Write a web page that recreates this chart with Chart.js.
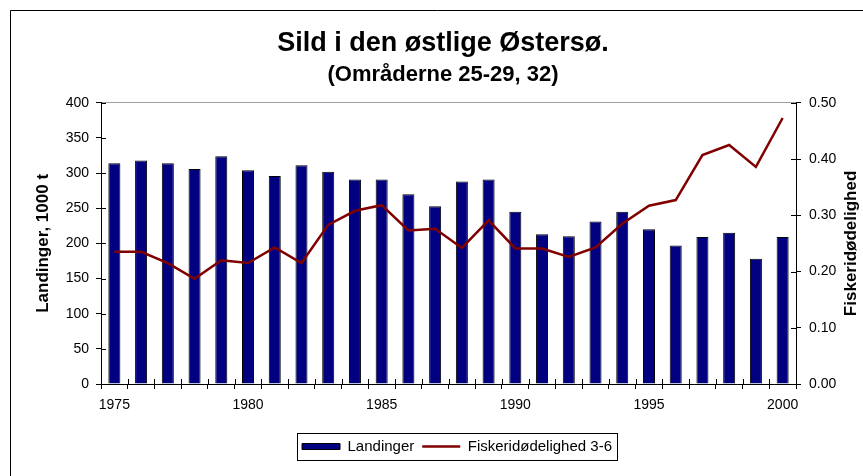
<!DOCTYPE html>
<html>
<head>
<meta charset="utf-8">
<script src="https://cdn.jsdelivr.net/npm/chart.js@4"></script>
<style>
html, body { margin: 0; padding: 0; background: #fff; }
</style>
</head>
<body>
<canvas id="myChart" width="863" height="476"></canvas>
<script>
// Sild i den østlige Østersø - landinger og fiskeridødelighed
var years = ['1975', '1976', '1977', '1978', '1979', '1980', '1981', '1982', '1983',
    '1984', '1985', '1986', '1987', '1988', '1989', '1990', '1991', '1992', '1993',
    '1994', '1995', '1996', '1997', '1998', '1999', '2000'];
var yearLabels = ['1975', '1980', '1985', '1990', '1995', '2000'];

// landinger, 1000 t
var landinger = [314, 318, 314, 306, 324, 304, 296, 311, 302, 291, 291, 270, 253,
    288, 291, 245, 213, 210, 231, 245, 220, 197, 209, 215, 178, 209];

// fiskeridødelighed 3-6
var fiskeri = [0.235, 0.235, 0.215, 0.187, 0.220, 0.215, 0.243, 0.215, 0.283, 0.308,
    0.318, 0.273, 0.276, 0.242, 0.291, 0.241, 0.241, 0.226, 0.243, 0.285, 0.317,
    0.327, 0.407, 0.425, 0.386, 0.473];

var FONT = "'Liberation Sans', Arial, sans-serif";
Chart.defaults.font.family = FONT;
Chart.defaults.font.size = 14;
Chart.defaults.color = '#000';

//frame, right axis title, cross ticks and legend box
var extras = {
    id: 'extras',
    afterLayout: function (chart) {
        // legend sits a bit right of the title in the original
        chart.legend.left += 14;
        chart.legend.right += 14;
    },
    beforeDraw: function (chart) {
        var ctx = chart.ctx;
        ctx.save();
        ctx.fillStyle = '#fff';
        ctx.fillRect(0, 0, chart.width, chart.height);
        ctx.strokeStyle = '#000';
        ctx.lineWidth = 1;
        ctx.beginPath();
        ctx.moveTo(10.5, chart.height + 5);
        ctx.lineTo(10.5, 10.5);
        ctx.lineTo(chart.width + 5, 10.5);
        ctx.stroke();
        ctx.restore();
    },
    afterDraw: function (chart) {
        var ctx = chart.ctx;
        var ca = chart.chartArea;
        ctx.save();

        // inward half of the cross ticks
        ctx.strokeStyle = '#000';
        ctx.lineWidth = 1;
        ctx.beginPath();
        var xs = chart.scales.x;
        var n = xs.ticks.length;
        var w = (xs.right - xs.left) / n;
        for (var i = 0; i <= n; i++) {
            var px = Math.round(xs.left + i * w) + 0.5;
            ctx.moveTo(px, ca.bottom - 5);
            ctx.lineTo(px, ca.bottom);
        }
        chart.scales.y.ticks.forEach(function (t) {
            var py = Math.round(chart.scales.y.getPixelForValue(t.value)) + 0.5;
            ctx.moveTo(ca.left, py);
            ctx.lineTo(ca.left + 5, py);
        });
        chart.scales.y1.ticks.forEach(function (t) {
            var py = Math.round(chart.scales.y1.getPixelForValue(t.value)) + 0.5;
            ctx.moveTo(ca.right - 5, py);
            ctx.lineTo(ca.right, py);
        });
        ctx.stroke();

        // right axis title, reading bottom to top
        ctx.translate(ca.right + 55, (ca.top + ca.bottom) / 2);
        ctx.rotate(-Math.PI / 2);
        ctx.font = 'bold 17px ' + FONT;
        ctx.fillStyle = '#000';
        ctx.textAlign = 'center';
        ctx.textBaseline = 'middle';
        ctx.fillText('Fiskeridødelighed', 0, 0);
        ctx.setTransform(1, 0, 0, 1, 0, 0);

        // box round the legend
        var boxes = chart.legend.legendHitBoxes;
        if (boxes && boxes.length) {
            var l = Infinity, r = -Infinity, t = Infinity, b = -Infinity;
            boxes.forEach(function (h) {
                l = Math.min(l, h.left);
                r = Math.max(r, h.left + h.width);
                t = Math.min(t, h.top);
                b = Math.max(b, h.top + h.height);
            });
            ctx.strokeStyle = '#000';
            ctx.strokeRect(Math.round(l - 5) + 0.5, Math.round(t - 6) + 0.5,
                Math.round(r - l + 10), Math.round(b - t + 12));
        }
        ctx.restore();
    }
};

var ctx = document.getElementById('myChart').getContext('2d');
var myChart = new Chart(ctx, {
    type: 'bar',
    data: {
        labels: years,
        datasets: [{
            type: 'bar',
            label: 'Landinger',
            data: landinger,
            yAxisID: 'y',
            backgroundColor: '#000080',
            borderColor: '#000',
            borderWidth: 1,
            categoryPercentage: 1,
            barPercentage: 0.45,
            order: 2
        }, {
            type: 'line',
            label: 'Fiskeridødelighed 3-6',
            data: fiskeri,
            yAxisID: 'y1',
            borderColor: '#800000',
            backgroundColor: '#800000',
            borderWidth: 2.5,
            pointRadius: 0,
            tension: 0,
            order: 1
        }]
    },
    options: {
        responsive: false,
        animation: false,
        layout: {padding: {left: 33, right: 10, top: 10, bottom: 12}},
        plugins: {
            title: {
                display: true,
                text: 'Sild i den østlige Østersø.',
                color: '#000',
                font: {size: 27, weight: 'bold'},
                padding: {top: 17, bottom: 0}
            },
            subtitle: {
                display: true,
                text: '(Områderne 25-29, 32)',
                color: '#000',
                font: {size: 22, weight: 'bold'},
                padding: {top: 2, bottom: 15}
            },
            legend: {
                position: 'bottom',
                labels: {
                    usePointStyle: true,
                    pointStyleWidth: 38,
                    boxHeight: 6,
                    padding: 8,
                    color: '#000',
                    font: {size: 15},
                    sort: function (a, b) { return a.datasetIndex - b.datasetIndex; },
                    generateLabels: function (chart) {
                        var items = Chart.defaults.plugins.legend.labels.generateLabels(chart);
                        items.forEach(function (it) {
                            if (it.datasetIndex === 0) {
                                it.pointStyle = 'rect';
                                it.fillStyle = '#000080';
                                it.strokeStyle = '#000';
                                it.lineWidth = 1;
                            } else {
                                it.pointStyle = 'line';
                                it.strokeStyle = '#800000';
                                it.lineWidth = 2.5;
                            }
                        });
                        return items;
                    }
                }
            },
            tooltip: {enabled: false}
        },
        scales: {
            x: {
                offset: true,
                grid: {offset: true, drawOnChartArea: false, tickLength: 5, tickColor: '#000'},
                border: {color: '#000'},
                ticks: {
                    autoSkip: false,
                    maxRotation: 0,
                    padding: 8,
                    color: '#000',
                    callback: function (v) {
                        var lab = this.getLabelForValue(v);
                        return yearLabels.indexOf(lab) >= 0 ? lab : '';
                    }
                },
                afterFit: function (s) { s.height = 47; }
            },
            y: {
                position: 'left',
                min: 0,
                max: 400,
                ticks: {stepSize: 50, padding: 7, color: '#000'},
                grid: {
                    tickLength: 5,
                    tickColor: '#000',
                    color: function (c) {
                        return c.tick && c.tick.value === 400 ? '#a0a0a0' : 'rgba(0,0,0,0)';
                    }
                },
                border: {color: '#000'},
                title: {
                    display: true,
                    text: 'Landinger, 1000 t',
                    color: '#000',
                    font: {size: 17, weight: 'bold'},
                    padding: 0
                },
                afterFit: function (s) { s.width = 68; }
            },
            y1: {
                position: 'right',
                min: 0,
                max: 0.5,
                ticks: {
                    stepSize: 0.1,
                    padding: 8,
                    color: '#000',
                    callback: function (v) { return v.toFixed(2); }
                },
                grid: {drawOnChartArea: false, tickLength: 5, tickColor: '#000'},
                border: {color: '#000'},
                afterFit: function (s) { s.width = 57; }
            }
        }
    },
    plugins: [extras]
});
</script>
</body>
</html>
